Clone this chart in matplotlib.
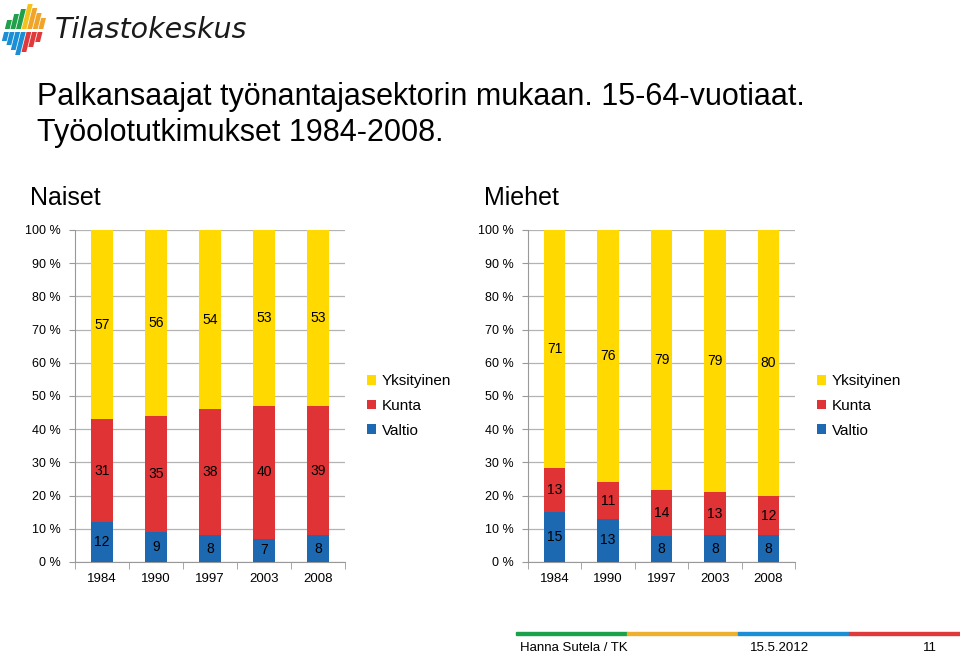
import matplotlib.pyplot as plt
import numpy as np
from matplotlib.patches import Polygon, Rectangle

plt.rcParams['font.family'] = ['Liberation Sans', 'DejaVu Sans']

years = ['1984', '1990', '1997', '2003', '2008']
series = ['Valtio', 'Kunta', 'Yksityinen']
colors = ['#1c69b1', '#df3336', '#ffd900']

naiset_valtio = [12, 9, 8, 7, 8]
naiset_kunta = [31, 35, 38, 40, 39]
naiset_yksityinen = [57, 56, 54, 53, 53]

miehet_valtio = [15, 13, 8, 8, 8]
miehet_kunta = [13, 11, 14, 13, 12]
miehet_yksityinen = [71, 76, 79, 79, 80]

W, H = 960, 653
fig = plt.figure(figsize=(W / 100, H / 100), dpi=100)


def stacked(ax, data, title):
    """100 % pinottu pylväs, arvot keskellä osia"""
    data = np.array(data, dtype=float)
    share = data / data.sum(axis=0) * 100
    x = np.arange(len(years))
    bottom = np.zeros(len(years))
    for i in range(len(series)):
        ax.bar(x, share[i], 0.4, bottom=bottom, color=colors[i], label=series[i], zorder=3)
        for j in range(len(years)):
            ax.text(x[j], bottom[j] + share[i][j] / 2, '%d' % data[i][j],
                    ha='center', va='center', fontsize=10, zorder=4)
        bottom += share[i]
    ax.set_xlim(-0.5, len(years) - 0.5)
    ax.set_ylim(0, 100)
    ax.set_yticks(np.arange(0, 101, 10))
    ax.set_yticklabels(['%d %%' % v for v in range(0, 101, 10)], fontsize=9)
    ax.set_xticks(x)
    ax.set_xticklabels(years, fontsize=9.5)
    ax.set_xticks(np.arange(-0.5, len(years), 1), minor=True)
    ax.tick_params(axis='x', which='major', length=0, pad=8)
    ax.tick_params(axis='x', which='minor', length=5, color='#999999')
    ax.tick_params(axis='y', length=4, color='#999999', pad=6)
    ax.grid(axis='y', color='#b3b3b3', linewidth=0.9, zorder=0)
    for s in ['top', 'right']:
        ax.spines[s].set_visible(False)
    ax.spines['left'].set_color('#999999')
    ax.spines['bottom'].set_color('#999999')
    ax.set_title(title, fontsize=18, loc='left', x=-0.165, pad=18)
    h, l = ax.get_legend_handles_labels()
    ax.legend(h[::-1], l[::-1], loc='center left', bbox_to_anchor=(1.03, 0.47),
              frameon=False, fontsize=11, handlelength=0.6, handleheight=0.6,
              handletextpad=0.4, labelspacing=0.7)


ax1 = fig.add_axes([75 / W, 1 - 562 / H, 270 / W, 332 / H])
stacked(ax1, [naiset_valtio, naiset_kunta, naiset_yksityinen], 'Naiset')
ax2 = fig.add_axes([528 / W, 1 - 562 / H, 267 / W, 332 / H])
stacked(ax2, [miehet_valtio, miehet_kunta, miehet_yksityinen], 'Miehet')

# otsikot, logo ja alatunniste pikselikoordinaateilla
bg = fig.add_axes([0, 0, 1, 1], zorder=-1)
bg.set_xlim(0, W)
bg.set_ylim(H, 0)
bg.axis('off')

fig.text(37 / W, 1 - 97 / H, 'Palkansaajat työnantajasektorin mukaan. 15-64-vuotiaat.',
         fontsize=22, va='center')
fig.text(37 / W, 1 - 133 / H, 'Työolotutkimukset 1984-2008.', fontsize=22, va='center')

# logo: vinot palkit, ylä- ja alaosa
logo_top = ['#21a04b', '#21a04b', '#21a04b', '#f3c31c', '#f0a52a', '#f0a52a', '#f0a52a']
logo_bot = ['#1b8fd6', '#1b8fd6', '#1b8fd6', '#1b8fd6', '#e0393b', '#e0393b', '#e0393b']
logo_y0 = [20, 14, 9, 4, 8, 13, 18]
logo_y1 = [41, 45, 50, 55, 52, 47, 42]
slant = 0.25
for k in range(7):
    xc = 7 + k * 5.6
    for (ya, yb, c) in [(logo_y0[k], 29, logo_top[k]), (32, logo_y1[k], logo_bot[k])]:
        xa = xc + (30 - ya) * slant
        xb = xc + (30 - yb) * slant
        bg.add_patch(Polygon([[xa - 2.4, ya], [xa + 2.4, ya], [xb + 2.4, yb], [xb - 2.4, yb]], color=c, lw=0))
bg.text(55, 30, 'Tilastokeskus', fontsize=20.5, va='center', style='italic',
        family=['DejaVu Sans'], color='#1a1a1a')

# alatunniste
foot = ['#1aa24a', '#f0b02f', '#1b8fd6', '#e0393b']
for k, c in enumerate(foot):
    bg.add_patch(Rectangle((516 + k * 111, 632), 111, 3, color=c))
bg.text(520, 648, 'Hanna Sutela / TK', fontsize=9.5, va='center')
bg.text(750, 648, '15.5.2012', fontsize=9.5, va='center')
bg.text(937, 648, '11', fontsize=9.5, va='center', ha='right')

fig.savefig('out.png', dpi=100)
